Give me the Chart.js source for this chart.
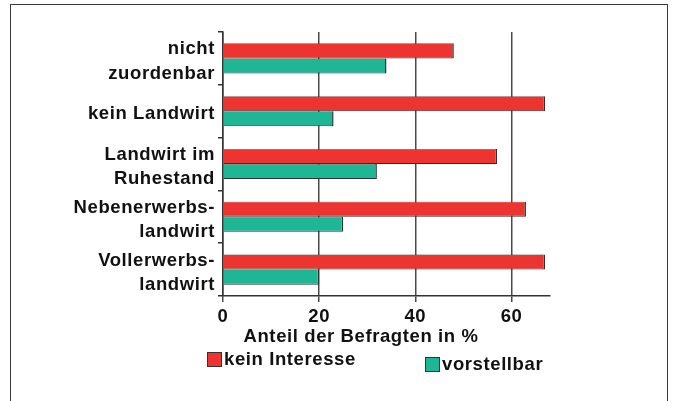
<!DOCTYPE html>
<html>
<head>
<meta charset="utf-8">
<script src="https://cdn.jsdelivr.net/npm/chart.js@4.4.1/dist/chart.umd.min.js"></script>
<style>
  html, body { margin: 0; padding: 0; background: #fff; }
  #wrap { position: relative; width: 674px; height: 401px; overflow: hidden; }
  #frame { position: absolute; left: 10px; top: 4px; width: 658px; height: 430px; border: 1.5px solid #3a3a3a; box-sizing: border-box; }
  canvas { position: absolute; left: 0; top: 0; }
</style>
</head>
<body>
<div id="wrap">
  <div id="frame"></div>
  <canvas id="c" width="674" height="401"></canvas>
</div>
<script>
const categories = [
  ['nicht', 'zuordenbar'],
  'kein Landwirt',
  ['Landwirt im', 'Ruhestand'],
  ['Nebenerwerbs-', 'landwirt'],
  ['Vollerwerbs-', 'landwirt']
];
const keinInteresse = [48, 67, 57, 63, 67];
const vorstellbar = [34, 23, 32, 25, 20];
const xTicks = [0, 20, 40, 60];
const seriesNames = ['kein Interesse', 'vorstellbar'];
const axisTitle = 'Anteil der Befragten in %';

const RED = '#ee3431';
const TEAL = '#1fb696';
const FONT = "'Liberation Sans', Arial, Helvetica, sans-serif";
const FS = 18.5;
const LS = '0.6px';

const spacingPlugin = {
  id: 'spacing',
  beforeInit(chart) { chart.ctx.letterSpacing = LS; },
  beforeDraw(chart) { chart.ctx.letterSpacing = LS; }
};

const extrasPlugin = {
  id: 'extras',
  afterDraw(chart) {
    const ctx = chart.ctx;
    const a = chart.chartArea;
    ctx.save();
    ctx.letterSpacing = LS;
    ctx.fillStyle = '#111';
    ctx.font = 'bold ' + FS + 'px ' + FONT;
    ctx.textAlign = 'center';
    ctx.textBaseline = 'middle';
    ctx.fillText(axisTitle, a.left + 138, a.bottom + 41);
    // legend
    const items = [
      { dx: -16, dy: 56 },
      { dx: 202, dy: 61 }
    ];
    chart.data.datasets.forEach((ds, i) => {
      const x = a.left + items[i].dx;
      const y = a.bottom + items[i].dy;
      ctx.fillStyle = ds.backgroundColor;
      ctx.fillRect(x, y, 15, 15);
      ctx.strokeStyle = '#333';
      ctx.lineWidth = 1;
      ctx.strokeRect(x + 0.5, y + 0.5, 14, 14);
      ctx.fillStyle = '#111';
      ctx.textAlign = 'left';
      ctx.textBaseline = 'middle';
      ctx.fillText(ds.label, x + 17, y + 8);
    });
    ctx.restore();
  }
};

new Chart(document.getElementById('c'), {
  type: 'bar',
  data: {
    labels: categories,
    datasets: [
      { label: seriesNames[0], data: keinInteresse, backgroundColor: RED, borderColor: '#3a2a2a',
        borderWidth: { top: 0.5, right: 1.5, bottom: 1, left: 0 }, borderSkipped: false },
      { label: seriesNames[1], data: vorstellbar, backgroundColor: TEAL, borderColor: '#243a33',
        borderWidth: { top: 0.5, right: 1.5, bottom: 1, left: 0 }, borderSkipped: false }
    ]
  },
  options: {
    indexAxis: 'y',
    responsive: false,
    animation: false,
    devicePixelRatio: 1,
    categoryPercentage: 0.57,
    barPercentage: 1,
    layout: { padding: { top: 32, right: 124, left: 0, bottom: 0 } },
    plugins: { legend: { display: false }, tooltip: { enabled: false } },
    scales: {
      x: {
        min: 0, max: 68,
        afterBuildTicks(scale) { scale.ticks = xTicks.map(v => ({ value: v })); },
        afterFit(scale) { scale.height = 105; },
        grid: { color: '#4a4a4a', lineWidth: 1.5, tickLength: 6, drawTicks: true },
        border: { color: '#333', width: 1.5 },
        ticks: { color: '#111', padding: 4, font: { family: FONT, size: FS, weight: 'bold' } }
      },
      y: {
        afterFit(scale) { scale.width = 223; },
        grid: { drawOnChartArea: false, color: '#333', lineWidth: 1.5, tickLength: 5, offset: true },
        border: { color: '#333', width: 1.5 },
        ticks: { color: '#111', padding: 3, labelOffset: 3, font: { family: FONT, size: FS, weight: 'bold', lineHeight: 1.3 } }
      }
    }
  },
  plugins: [spacingPlugin, extrasPlugin]
});
</script>
</body>
</html>
